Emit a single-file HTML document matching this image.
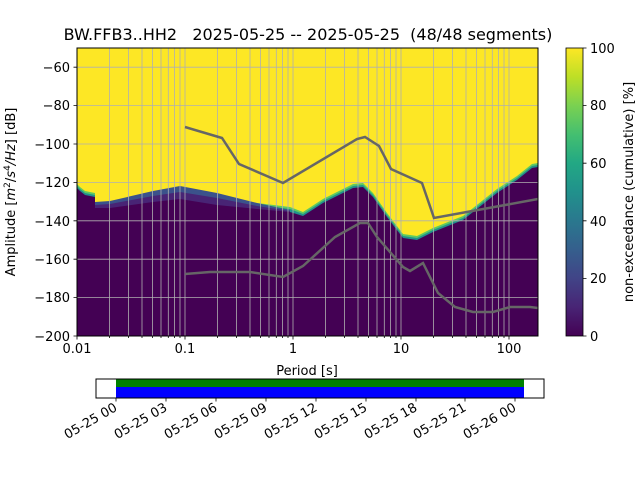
<!DOCTYPE html>
<html><head><meta charset="utf-8"><style>
html,body{margin:0;padding:0;background:#fff;}
svg{display:block;font-family:"DejaVu Sans","Liberation Sans",sans-serif;}
</style></head><body>
<svg width="640" height="480" viewBox="0 0 640 480" xmlns="http://www.w3.org/2000/svg">
<defs>
<linearGradient id="vir" x1="0" y1="1" x2="0" y2="0">
<stop offset="0" stop-color="#440154"/><stop offset="0.1" stop-color="#482475"/>
<stop offset="0.2" stop-color="#414487"/><stop offset="0.3" stop-color="#355f8d"/>
<stop offset="0.4" stop-color="#2a788e"/><stop offset="0.5" stop-color="#21918c"/>
<stop offset="0.6" stop-color="#22a884"/><stop offset="0.7" stop-color="#44bf70"/>
<stop offset="0.8" stop-color="#7ad151"/><stop offset="0.9" stop-color="#bddf26"/>
<stop offset="1" stop-color="#fde725"/></linearGradient>
<clipPath id="ax"><rect x="77" y="48" width="461" height="288"/></clipPath>
</defs>
<text x="308" y="40" font-size="16" text-anchor="middle" style="white-space:pre" xml:space="preserve">BW.FFB3..HH2   2025-05-25 -- 2025-05-25  (48/48 segments)</text>
<g clip-path="url(#ax)">
<rect x="77" y="48" width="461" height="288" fill="#fde725"/>
<g transform="translate(0,-4)">
<polygon fill="#5ec962" points="77,188 80,191 85,195 95,197 95,207 110,207 153,199 180,195 217,201 257,207 290,211 303,216 323,203 353,188 363,187 373,197 387,217 403,238 417,240 433,232 463,220 497,193 517,180 532,168 538,167 538,336 77,336"/>
</g>
<g transform="translate(0,-2)">
<polygon fill="#21918c" points="77,188 80,191 85,195 95,197 95,207 110,207 153,199 180,195 217,201 257,207 290,211 303,216 323,203 353,188 363,187 373,197 387,217 403,238 417,240 433,232 463,220 497,193 517,180 532,168 538,167 538,336 77,336"/>
</g>
<polygon fill="#3b528b" points="95,202 110,201 153,191 180,186 217,193 257,203 290,210 290,336 95,336"/>
<polygon fill="#482475" points="95,205 110,204 153,196 180,192 217,198 257,206 290,211 290,336 95,336"/>
<polygon fill="#440154" points="77,188 80,191 85,195 95,197 95,208 110,208 153,202 180,199 217,205 257,209 290,212 303,216 323,203 353,188 363,187 373,197 387,217 403,238 417,240 433,232 463,220 497,193 517,180 532,168 538,167 538,336 77,336"/>
<path stroke="#b0b0b0" stroke-width="0.8" fill="none" d="M109.5,48V336M128.5,48V336M142,48V336M152.5,48V336M161,48V336M168.3,48V336M174.5,48V336M180,48V336M185,48V336M217.5,48V336M236.5,48V336M250,48V336M260.5,48V336M269,48V336M276.3,48V336M282.5,48V336M288,48V336M293,48V336M325.5,48V336M344.5,48V336M358,48V336M368.5,48V336M377,48V336M384.3,48V336M390.5,48V336M396,48V336M401,48V336M433.5,48V336M452.5,48V336M466,48V336M476.5,48V336M485,48V336M492.3,48V336M498.5,48V336M504,48V336M509,48V336M77,67.2H538M77,105.6H538M77,144H538M77,182.4H538M77,220.8H538M77,259.2H538M77,297.6H538"/>
<polyline fill="none" stroke="#666" stroke-width="2.5" points="185,127 222,138 239,164 283,183 357,139 365,137 379,146 391,169 422,183 434,218 538,199"/>
<polyline fill="none" stroke="#666" stroke-width="2.5" points="185,274 210,272 250,272 283,277 303,266 335,237 360,223 368,223 377,237 403,267 410,271 423,263 438,293 455,307 473,312 493,312 510,307 530,307 538,308"/>
</g>
<rect x="77" y="48" width="461" height="288" fill="none" stroke="#000" stroke-width="1"/>
<path stroke="#000" stroke-width="0.8" fill="none" d="M77,336v3.5M185,336v3.5M293,336v3.5M401,336v3.5M509,336v3.5M109.5,336v2M128.5,336v2M142,336v2M152.5,336v2M161,336v2M168.3,336v2M174.5,336v2M180,336v2M217.5,336v2M236.5,336v2M250,336v2M260.5,336v2M269,336v2M276.3,336v2M282.5,336v2M288,336v2M325.5,336v2M344.5,336v2M358,336v2M368.5,336v2M377,336v2M384.3,336v2M390.5,336v2M396,336v2M433.5,336v2M452.5,336v2M466,336v2M476.5,336v2M485,336v2M492.3,336v2M498.5,336v2M504,336v2M77,67.2h-3.5M77,105.6h-3.5M77,144h-3.5M77,182.4h-3.5M77,220.8h-3.5M77,259.2h-3.5M77,297.6h-3.5M77,336h-3.5"/>
<g font-size="13" text-anchor="end">
<text x="70" y="72">−60</text><text x="70" y="110">−80</text><text x="70" y="149">−100</text><text x="70" y="187">−120</text><text x="70" y="226">−140</text><text x="70" y="264">−160</text><text x="70" y="302">−180</text><text x="70" y="341">−200</text>
</g>
<g font-size="13" text-anchor="middle">
<text x="77" y="353">0.01</text><text x="185" y="353">0.1</text><text x="293" y="353">1</text><text x="401" y="353">10</text><text x="509" y="353">100</text>
<text x="307" y="375">Period [s]</text>
</g>
<text transform="translate(15,192) rotate(-90)" font-size="13" text-anchor="middle">Amplitude [<tspan font-style="italic">m</tspan><tspan font-size="9" dy="-5">2</tspan><tspan dy="5">/</tspan><tspan font-style="italic">s</tspan><tspan font-size="9" dy="-5">4</tspan><tspan dy="5" font-style="italic">/Hz</tspan>] [dB]</text>
<rect x="566" y="48" width="17" height="288" fill="url(#vir)" stroke="#000" stroke-width="0.8"/>
<path stroke="#000" stroke-width="0.8" d="M583,48h3.5M583,105.6h3.5M583,163.2h3.5M583,220.8h3.5M583,278.4h3.5M583,336h3.5"/>
<g font-size="13">
<text x="590" y="53">100</text><text x="590" y="110">80</text><text x="590" y="168">60</text><text x="590" y="226">40</text><text x="590" y="283">20</text><text x="590" y="341">0</text>
</g>
<text transform="translate(633,192) rotate(-90)" font-size="13" text-anchor="middle">non-exceedance (cumulative) [%]</text>
<rect x="116" y="379" width="408" height="8" fill="#008000"/>
<rect x="116" y="387" width="408" height="11" fill="#0000ff"/>
<rect x="96" y="379" width="448" height="19" fill="none" stroke="#000" stroke-width="1"/>
<path stroke="#000" stroke-width="0.8" d="M116,398v3.5M166,398v3.5M216,398v3.5M266,398v3.5M316,398v3.5M366,398v3.5M416,398v3.5M465,398v3.5M515,398v3.5"/>
<g font-size="13" text-anchor="end">
<text transform="translate(118,410) rotate(-30)">05-25 00</text>
<text transform="translate(168,410) rotate(-30)">05-25 03</text>
<text transform="translate(218,410) rotate(-30)">05-25 06</text>
<text transform="translate(268,410) rotate(-30)">05-25 09</text>
<text transform="translate(318,410) rotate(-30)">05-25 12</text>
<text transform="translate(368,410) rotate(-30)">05-25 15</text>
<text transform="translate(418,410) rotate(-30)">05-25 18</text>
<text transform="translate(467,410) rotate(-30)">05-25 21</text>
<text transform="translate(517,410) rotate(-30)">05-26 00</text>
</g>
</svg>
</body></html>
